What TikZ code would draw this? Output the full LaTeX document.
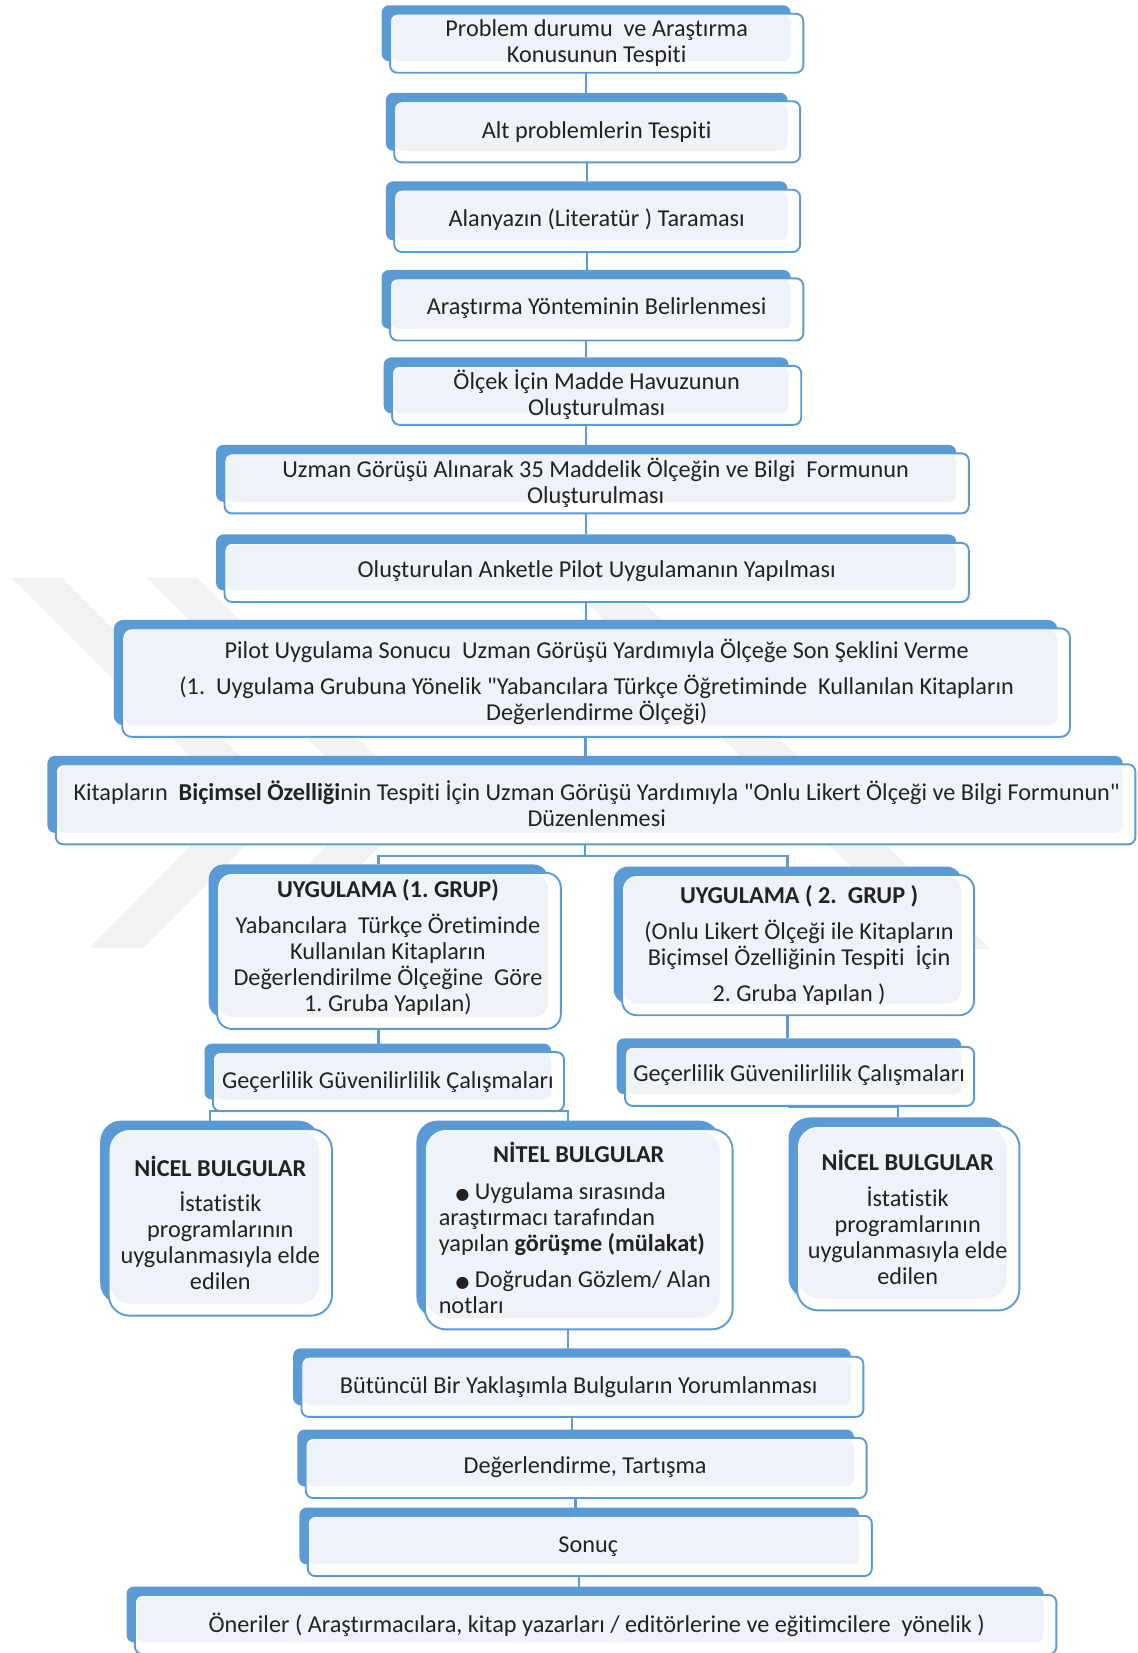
\documentclass[tikz,border=0pt]{standalone}
\usepackage{fontspec}
\setmainfont{Carlito}[Ligatures={TeXOff,NoCommon}]
\newfontfamily\dejavu{DejaVu Sans}
\usetikzlibrary{calc}
\frenchspacing
\pgfdeclarelayer{wmlayer}
\pgfdeclarelayer{connlayer}
\pgfdeclarelayer{shapelayer}
\pgfsetlayers{wmlayer,connlayer,shapelayer,main}
\definecolor{accent}{HTML}{5B9BD5}
\definecolor{lightfill}{HTML}{EEF3FA}
\definecolor{wmgray}{HTML}{F2F2F2}
\definecolor{txtc}{HTML}{222222}
\tikzset{
  boxnode/.style={rectangle, inner sep=0pt, outer sep=0pt},
  backshape/.style={fill=accent},
  frontshape/.style={draw=accent, line width=1.8pt, fill=white},
  innershape/.style={fill=lightfill},
  conn/.style={draw=accent, line width=2.2pt},
  txt/.style={text=txtc, font=\fontsize{23}{24.7}\selectfont\frenchspacing, align=center, inner sep=0pt},
  wmband/.style={fill=wmgray}
}
\newcommand\mkbox[6]{%
  \node[boxnode, minimum width={#4-#2}, minimum height={#5-#3}] (#1) at ({(#2+#4)/2},{(#3+#5)/2}) {};
  \begin{pgfonlayer}{shapelayer}
    \fill[backshape, rounded corners=#6] (#2,#3) rectangle (#4,#5);
    \filldraw[frontshape, rounded corners=#6] (#2+8,#3+8) rectangle (#4+12,#5+11);
    \fill[innershape, rounded corners=#6] (#2+9.5,#3+9.5) rectangle (#4,#5);
  \end{pgfonlayer}
}
\newcommand\bul{{\dejavu\fontsize{15}{15}\selectfont ●}}
\begin{document}
\begin{tikzpicture}[x=1pt,y=-1pt]
\useasboundingbox (0,0) rectangle (1079,1568);
% watermark
\begin{pgfonlayer}{wmlayer}
  \fill[wmband] (11,548) -- (59,548) -- (273,762) -- (136,899) -- (85,899) -- (223,760) -- cycle;
  \fill[wmband] (139,548) -- (187,548) -- (401,762) -- (264,899) -- (213,899) -- (351.5,760.5) -- cycle;
  \fill[wmband] (533,548) -- (587,548) -- (939,900) -- (885,900) -- cycle;
\end{pgfonlayer}
% boxes
\mkbox{b1}{362}{5}{750}{58}{7pt}
\mkbox{b2}{366}{88}{747}{143}{7pt}
\mkbox{b3}{366}{172}{747}{228}{7pt}
\mkbox{b4}{362}{256}{750}{312}{7pt}
\mkbox{b5}{364}{339}{748}{392}{7pt}
\mkbox{b6}{205}{422}{907}{476}{7pt}
\mkbox{b7}{205}{507}{907}{560}{7pt}
\mkbox{b8}{108}{588}{1003}{688}{9pt}
\mkbox{b9}{45}{717}{1065}{790}{7pt}
\mkbox{b10}{198}{820}{520}{965}{14pt}
\mkbox{b11}{582}{822}{912}{952}{14pt}
\mkbox{b12}{194}{990}{523}{1043}{7pt}
\mkbox{b13}{585}{985}{912}{1038}{7pt}
\mkbox{b14}{95}{1063}{303}{1237}{20pt}
\mkbox{b15}{395}{1063}{683}{1250}{20pt}
\mkbox{b16}{748}{1060}{955}{1232}{20pt}
\mkbox{b17}{278}{1279}{807}{1333}{7pt}
\mkbox{b18}{282}{1356}{810}{1410}{7pt}
\mkbox{b19}{284}{1430}{815}{1484}{7pt}
\mkbox{b20}{120}{1505}{990}{1558}{7pt}
% connectors
\begin{pgfonlayer}{connlayer}
  \foreach \u/\v in {b1/b2,b2/b3,b3/b4,b4/b5,b5/b6,b6/b7,b7/b8,b8/b9,b10/b12,b11/b13,b15/b17,b17/b18,b18/b19,b19/b20}
    \draw[conn] (\u.south) -- (\u.south |- \v.north);
  \draw[conn] (b9.south) -- ++(0,22) -| (b10.north);
  \draw[conn] (b9.south) -- ++(0,22) -| (b11.north);
  \draw[conn] (b12.south) -- ++(0,11) -| (b14.north);
  \draw[conn] (b12.south) -- ++(0,11) -| (b15.north);
  \draw[conn] (b13.south) -- ++(0,12) -| (b16.north);
\end{pgfonlayer}
% texts
\node[txt] (t1) at (566,41) {Problem durumu\ \ ve Araştırma\\Konusunun Tespiti};
\node[txt] (t2) at (566,125) {Alt problemlerin Tespiti};
\node[txt] (t3) at (566,208) {Alanyazın (Literatür ) Taraması};
\node[txt] (t4) at (566,292) {Araştırma Yönteminin Belirlenmesi};
\node[txt] (t5) at (566,374) {Ölçek İçin Madde Havuzunun\\Oluşturulması};
\node[txt] (t6) at (565,458) {Uzman Görüşü Alınarak 35 Maddelik Ölçeğin ve Bilgi\ \ Formunun\\Oluşturulması};
\node[txt] (t7) at (566,542) {Oluşturulan Anketle Pilot Uygulamanın Yapılması};
\node[txt] (t8) at (566,647) {Pilot Uygulama Sonucu\ \ Uzman Görüşü Yardımıyla Ölçeğe Son Şeklini Verme\\[9pt](1.\ \ Uygulama Grubuna Yönelik "Yabancılara Türkçe Öğretiminde\ \ Kullanılan Kitapların\\Değerlendirme Ölçeği)};
\node[txt] (t9) at (566,762) {Kitapların\ \ \textbf{Biçimsel Özelliği}nin Tespiti İçin Uzman Görüşü Yardımıyla "Onlu Likert Ölçeği ve Bilgi Formunun"\\Düzenlenmesi};
\node[txt] (t10) at (368,899) {\textbf{UYGULAMA (1. GRUP)}\\[9pt]Yabancılara\ \ Türkçe Öretiminde\\Kullanılan Kitapların\\Değerlendirilme Ölçeğine\ \ Göre\\1. Gruba Yapılan)};
\node[txt] (t11) at (758,897) {\textbf{UYGULAMA ( 2.\ \ GRUP )}\\[9pt](Onlu Likert Ölçeği ile Kitapların\\Biçimsel Özelliğinin Tespiti\ \ İçin\\[10pt]2. Gruba Yapılan )};
\node[txt] (t12) at (368,1026) {Geçerlilik Güvenilirlilik Çalışmaları};
\node[txt] (t13) at (758,1020) {Geçerlilik Güvenilirlilik Çalışmaları};
\node[txt] (t14) at (209,1160) {\textbf{NİCEL BULGULAR}\\[9pt]İstatistik\\programlarının\\uygulanmasıyla elde\\edilen};
\node[txt] (t15) at (549,1093) {\textbf{NİTEL BULGULAR}};
\node[txt, align=left, anchor=west] (t15b) at (416,1184) {\hspace*{16pt}\bul\ Uygulama sırasında\\araştırmacı tarafından\\yapılan \textbf{görüşme (mülakat)}\\[10pt]\hspace*{16pt}\bul\ Doğrudan Gözlem/ Alan\\notları};
\node[txt] (t16) at (861,1155) {\textbf{NİCEL BULGULAR}\\[9pt]İstatistik\\programlarının\\uygulanmasıyla elde\\edilen};
\node[txt] (t17) at (549,1316) {Bütüncül Bir Yaklaşımla Bulguların Yorumlanması};
\node[txt] (t18) at (555,1392) {Değerlendirme, Tartışma};
\node[txt] (t19) at (558,1467) {Sonuç};
\node[txt] (t20) at (566,1541) {Öneriler ( Araştırmacılara, kitap yazarları / editörlerine ve eğitimcilere\ \ yönelik )};
\end{tikzpicture}
\end{document}
